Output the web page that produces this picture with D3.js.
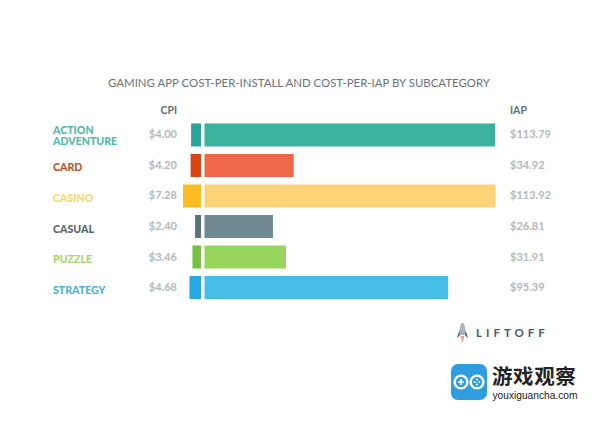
<!DOCTYPE html>
<html><head><meta charset="utf-8">
<script src="https://cdn.jsdelivr.net/npm/d3@7/dist/d3.min.js"></script>
<style>html,body{margin:0;padding:0;background:#fff}svg{display:block}text{font-family:Lato,"Open Sans",sans-serif}</style>
</head><body><svg id="c" width="600" height="424"></svg>
<script>
const categories = ["ACTION ADVENTURE","CARD","CASINO","CASUAL","PUZZLE","STRATEGY"];
const cpiValues = [4.00,4.20,7.28,2.40,3.46,4.68];
const iapValues = [113.79,34.92,113.92,26.81,31.91,95.39];
const rightColors = ["#3bb29e","#ee6749","#fcd277","#6f8a91","#97d55c","#45bfe6"];
const leftColors = ["#2aa39b","#d8430f","#fbbc22","#5b727d","#76c043","#28a8e0"];
const labelColors = ["#4fbaab","#b9532f","#f8d670","#56666f","#a6d56c","#4db4d5"];

const svg = d3.select("#c");
const y = d3.scaleBand().domain(categories).range([119.5,303]).paddingInner(0.245).paddingOuter(0.13);
const xL = d3.scaleLinear().domain([0,7.28]).range([201,183]);
const xR = d3.scaleLinear().domain([0,113.92]).range([204.5,495.5]);
const f = d3.format("$.2f");

svg.append("text").attr("x",299).attr("y",87).attr("text-anchor","middle")
  .attr("font-size",11.45).attr("fill","#6a7278").text("GAMING APP COST-PER-INSTALL AND COST-PER-IAP BY SUBCATEGORY");
[["CPI",177,"end"],["IAP",510,"start"]].forEach(h=>svg.append("text").attr("x",h[1]).attr("y",114)
  .attr("text-anchor",h[2]).attr("font-size",10.5).attr("font-weight",700).attr("fill","#646e75").text(h[0]));

const rows = svg.selectAll("g.r").data(categories).join("g").attr("class","r");
rows.append("rect").attr("x",(d,k)=>xL(cpiValues[k])).attr("y",d=>y(d))
  .attr("width",(d,k)=>xL(0)-xL(cpiValues[k])).attr("height",y.bandwidth()).attr("fill",(d,k)=>leftColors[k]);
rows.append("rect").attr("x",xR(0)).attr("y",d=>y(d))
  .attr("width",(d,k)=>xR(iapValues[k])-xR(0)).attr("height",y.bandwidth()).attr("fill",(d,k)=>rightColors[k]);
rows.append("text").attr("x",177).attr("y",d=>y(d)+y.bandwidth()/2+3.5).attr("text-anchor","end")
  .attr("font-size",11).attr("font-weight",700).attr("fill","#b4b8bb").text((d,k)=>f(cpiValues[k]));
rows.append("text").attr("x",510).attr("y",d=>y(d)+y.bandwidth()/2+3.5)
  .attr("font-size",11).attr("font-weight",700).attr("fill","#b4b8bb").text((d,k)=>f(iapValues[k]));
rows.each(function(d,k){
  const g=d3.select(this), parts=d.split(" ");
  const base=y(d)+y.bandwidth()/2+6;
  parts.forEach((p,j)=>g.append("text").attr("x",53).attr("y",parts.length>1?base-7+j*11:base)
    .attr("font-size",10.6).attr("font-weight",900).attr("fill",labelColors[k]).text(p));
});

// Liftoff logo
const lg = svg.append("g").attr("transform","translate(457,322)");
lg.append("path").attr("d","M5.5 0C3 3 2.5 6 2.5 13L8.5 13C8.5 6 8 3 5.5 0Z").attr("fill","#aab3b8");
lg.append("path").attr("d","M2.5 8L0 16L2.8 13.5ZM8.5 8L11 16L8.2 13.5Z").attr("fill","#4d5d68");
lg.append("path").attr("d","M3.5 14L7.5 14L5.5 21Z").attr("fill","#e3a48c");
svg.append("text").attr("x",476).attr("y",337).attr("font-size",11.5).attr("font-weight",700)
  .attr("letter-spacing",4).attr("fill","#4a5a68").text("LIFTOFF");

// watermark
const wm = svg.append("g");
wm.append("rect").attr("x",451).attr("y",364).attr("width",36).attr("height",36).attr("rx",7).attr("fill","#2d9fe0");
[[461,382],[477,382]].forEach(c=>wm.append("circle").attr("cx",c[0]).attr("cy",c[1]).attr("r",6.4)
  .attr("fill","none").attr("stroke","#fff").attr("stroke-width",2.4));
wm.append("path").attr("d","M458 382h6M461 379v6").attr("stroke","#fff").attr("stroke-width",1.6);
[[477,379.6],[477,384.4],[474.6,382],[479.4,382]].forEach(c=>wm.append("circle").attr("cx",c[0]).attr("cy",c[1]).attr("r",1).attr("fill","#fff"));
wm.append("text").attr("x",492).attr("y",383.5).attr("font-size",20.5).attr("font-weight",700).attr("letter-spacing",0.6)
  .style("font-family","'Noto Sans CJK SC'").attr("fill","#222").text("游戏观察");
wm.append("text").attr("x",492.5).attr("y",398.6).attr("font-size",10.2)
  .style("font-family","'Liberation Sans'").attr("fill","#222").text("youxiguancha.com");
</script></body></html>
